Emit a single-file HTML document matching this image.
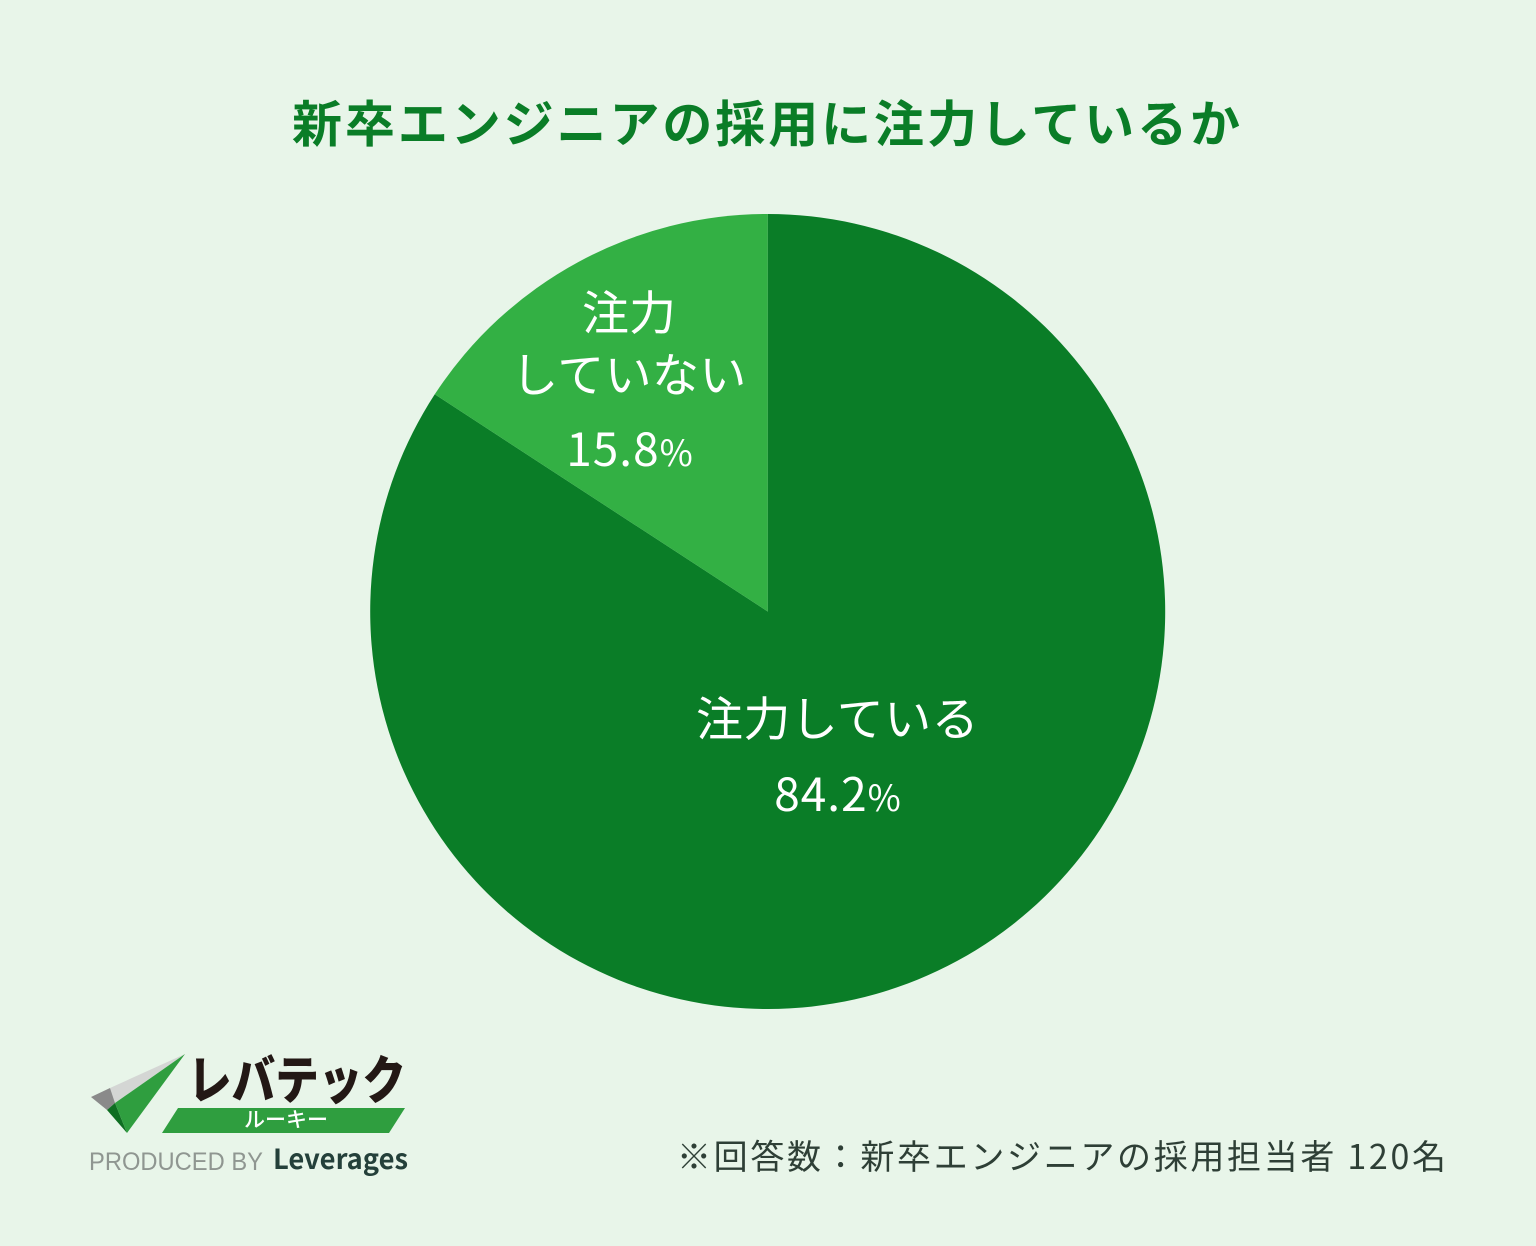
<!DOCTYPE html>
<html lang="ja">
<head>
<meta charset="utf-8">
<title>新卒エンジニアの採用に注力しているか</title>
<style>
html,body{margin:0;padding:0;background:#e8f5e9;}
body{width:1536px;height:1246px;overflow:hidden;}
svg{display:block;}
text{font-family:"Liberation Sans","Noto Sans CJK JP",sans-serif;}
.jp{font-family:"Noto Sans CJK JP","Liberation Sans",sans-serif;}
</style>
</head>
<body>
<svg id="chart" xmlns="http://www.w3.org/2000/svg" width="1536" height="1246" viewBox="0 0 1536 1246">
  <rect width="1536" height="1246" fill="#e8f5e9"/>
  <text class="jp" x="292" y="142" font-size="50" font-weight="700" fill="#0a7d27" textLength="948" lengthAdjust="spacing">新卒エンジニアの採用に注力しているか</text>
  <g id="slices"></g>

  <g fill="#ffffff" text-anchor="middle">
    <text class="jp" x="629" y="330" font-size="47">注力</text>
    <text class="jp" x="629" y="392" font-size="47" letter-spacing="0.4">していない</text>
    <text class="jp" id="value-1" x="630" y="466" font-size="46" letter-spacing="1"></text>
  </g>
  <g fill="#ffffff" text-anchor="middle">
    <text class="jp" x="837.5" y="736" font-size="47" letter-spacing="0.4">注力している</text>
    <text class="jp" id="value-0" x="838" y="811" font-size="46" letter-spacing="1"></text>
  </g>

  <g>
    <polygon points="185,1054 110,1088 115,1103" fill="#d4d6d4"/>
    <polygon points="91,1097 110,1088 115,1103 107,1110" fill="#8a8a8a"/>
    <polygon points="107,1110 115,1103 127,1133" fill="#0f6e22"/>
    <polygon points="185,1054 115,1103 127,1133" fill="#2f9e3f"/>
    <text class="jp" x="188" y="1099" font-size="52" font-weight="900" fill="#231815" textLength="218" lengthAdjust="spacingAndGlyphs">レバテック</text>
    <polygon points="178,1108 405,1108 389,1133 162,1133" fill="#2f9e3f"/>
    <text class="jp" x="286" y="1127" text-anchor="middle" font-size="21" font-weight="500" fill="#ffffff">ルーキー</text>
    <text x="89" y="1170" font-size="25" fill="#8f9691" textLength="174" lengthAdjust="spacingAndGlyphs">PRODUCED BY</text>
    <text class="jp" x="273" y="1169" font-size="28" font-weight="700" fill="#24403a" textLength="135" lengthAdjust="spacingAndGlyphs">Leverages</text>
  </g>

  <text class="jp" x="677" y="1169" font-size="34" fill="#2e3f36" textLength="769" lengthAdjust="spacing">※回答数：新卒エンジニアの採用担当者 120名</text>
</svg>
<script>
var categories = ["注力している", "注力していない"];
var seriesValues = [84.2, 15.8];
var sliceColors = ["#0a7d27", "#33b044"];

var cx = 767.7, cy = 611.5, radius = 397.5;
var total = seriesValues.reduce(function (a, b) { return a + b; }, 0);

function angleOf(v) { return v / total * Math.PI * 2; }
function px(a) { return cx + radius * Math.sin(a); }
function py(a) { return cy - radius * Math.cos(a); }

var slicesGroup = document.getElementById('slices');
var cumulative = 0;
seriesValues.forEach(function (v, i) {
  var a0 = angleOf(cumulative);
  var a1 = angleOf(cumulative + v);
  cumulative += v;
  var large = (a1 - a0) > Math.PI ? 1 : 0;
  var p = document.createElementNS('http://www.w3.org/2000/svg', 'path');
  p.setAttribute('d', 'M' + cx + ' ' + cy + ' L' + px(a0) + ' ' + py(a0) +
    ' A' + radius + ' ' + radius + ' 0 ' + large + ' 1 ' + px(a1) + ' ' + py(a1) + ' Z');
  p.setAttribute('fill', sliceColors[i]);
  
  
  var t = document.createElementNS('http://www.w3.org/2000/svg', 'title');
  t.textContent = categories[i] + ' ' + v + '%';
  p.appendChild(t);
  slicesGroup.appendChild(p);

  var label = document.getElementById('value-' + i);
  label.textContent = v.toFixed(1);
  var pct = document.createElementNS('http://www.w3.org/2000/svg', 'tspan');
  pct.setAttribute('font-size', '36');
  
  
  pct.textContent = '%';
  label.appendChild(pct);
});
</script>
</body>
</html>
